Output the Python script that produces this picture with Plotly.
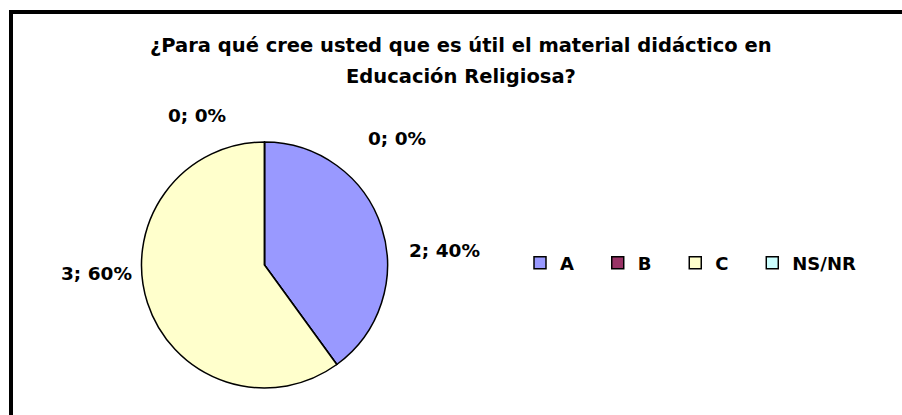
import plotly.graph_objects as go

categories = ["A", "B", "C", "NS/NR"]
values = [2, 0, 3, 0]
colors = ["#9999FF", "#993366", "#FFFFCC", "#CCFFFF"]
title_lines = ["¿Para qué cree usted que es útil el material didáctico en", "Educación Religiosa?"]

W, H = 902, 415
total = sum(values)
label_texts = [f"{v}; {round(100 * v / total)}%" for v in values]

FONT = "DejaVu Sans, Arial, sans-serif"
NBSP = "\u00a0"
# legend display names: trailing no-break spaces give Excel-like even spacing
legend_names = [c + NBSP * 3 for c in categories]

fig = go.Figure()
fig.add_trace(go.Pie(
    labels=legend_names,
    values=values,
    sort=False,
    direction="clockwise",
    rotation=0,
    textinfo="none",
    hoverinfo="label+value+percent",
    marker=dict(colors=colors, line=dict(color="black", width=1.5)),
    domain=dict(x=[141.5 / W, 387.5 / W], y=[1 - 388 / H, 1 - 142 / H]),
    showlegend=True,
))

label_pos = {"A": (444, 250), "B": (397, 138), "C": (96, 273), "NS/NR": (197, 115)}
for cat, txt in zip(categories, label_texts):
    px, py = label_pos[cat]
    fig.add_annotation(x=px / W, y=1 - py / H, xref="paper", yref="paper",
                       text=txt, showarrow=False,
                       xanchor="center", yanchor="middle",
                       font=dict(family=FONT, size=18.5, color="black", weight="bold"))

for line, cy in zip(title_lines, [45, 77]):
    fig.add_annotation(x=461 / W, y=1 - cy / H, xref="paper", yref="paper",
                       text=line, showarrow=False,
                       xanchor="center", yanchor="middle",
                       font=dict(family=FONT, size=19.5, color="black", weight="bold"))

fig.add_shape(type="path", xref="paper", yref="paper",
              path=f"M {11 / W},-0.1 L {11 / W},{1 - 12 / H} L 1.1,{1 - 12 / H}",
              line=dict(color="black", width=4))

fig.update_layout(
    width=W, height=H,
    margin=dict(l=0, r=0, t=0, b=0),
    paper_bgcolor="white", plot_bgcolor="white",
    legend=dict(orientation="h", x=520 / W, y=1 - 263 / H, xanchor="left", yanchor="middle",
                font=dict(family=FONT, size=18, color="black", weight="bold"),
                traceorder="normal", bgcolor="rgba(0,0,0,0)"),
)

fig.write_html("out.html", config={"displayModeBar": False},
               post_script="document.body.style.margin='0';")
